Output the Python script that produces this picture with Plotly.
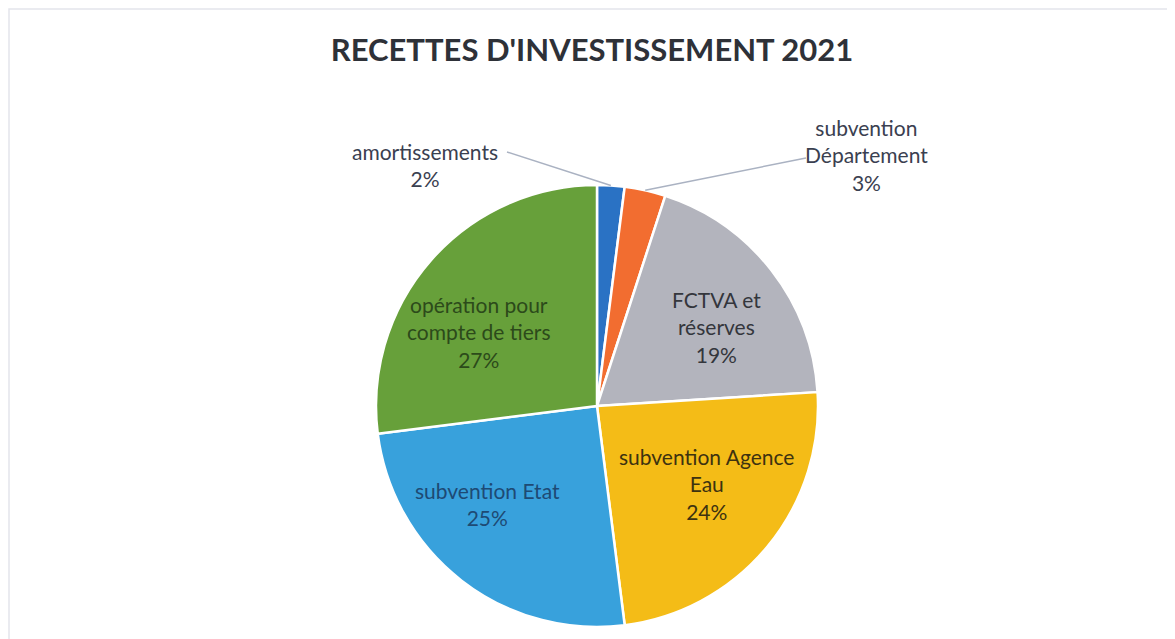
import math
import plotly.graph_objects as go

# ---- data ----
categories = ["amortissements", "subvention Département", "FCTVA et réserves",
              "subvention Agence Eau", "subvention Etat", "opération pour compte de tiers"]
display_labels = ["amortissements", "subvention<br>Département", "FCTVA et<br>réserves",
                  "subvention Agence<br>Eau", "subvention Etat", "opération pour<br>compte de tiers"]
values = [2, 3, 19, 24, 25, 27]
colors = ["#2a72c4", "#f26d30", "#b3b4bd", "#f4bc17", "#38a1dc", "#67a03a"]
text_colors = ["#3a4050", "#3a4050", "#34363c", "#3d3210", "#1e4a74", "#2c4a1a"]
outside = [True, True, False, False, False, False]

W, H = 1175, 639
OFF = 8                      # page offset of the plot div
cx, cy, R = 597, 406, 221    # pie center / radius in screen px


def px(x):
    return (x - OFF) / W


def py(y):
    return 1 - (y - OFF) / H


fig = go.Figure()
fig.add_trace(go.Pie(
    labels=categories,
    values=values,
    sort=False,
    direction="clockwise",
    rotation=0,
    marker=dict(colors=colors, line=dict(color="white", width=2.5)),
    textposition="none",
    domain=dict(x=[px(cx - R), px(cx + R)], y=[py(cy + R), py(cy - R)]),
    showlegend=False,
    hoverinfo="label+percent",
))

# label placement (screen px): text center, and for outside labels the leader-line start
label_pos = {
    0: (425, 165, 507, 152),
    1: (866, 155, 806, 158),
    2: (716, 327),
    3: (706, 484),
    4: (487, 504),
    5: (479, 332),
}

total = sum(values)
shapes = []
annotations = []
cum = 0
for i, v in enumerate(values):
    mid = (cum + v / 2) / total * 2 * math.pi
    cum += v
    pos = label_pos[i]
    annotations.append(dict(
        x=px(pos[0]), y=py(pos[1]), xref="paper", yref="paper",
        xanchor="center", yanchor="middle",
        text=display_labels[i] + "<br>" + f"{round(v / total * 100)}%",
        showarrow=False, align="center",
        font=dict(family="Lato, sans-serif", size=21, color=text_colors[i]),
    ))
    if outside[i]:
        ex, ey = cx + R * math.sin(mid), cy - R * math.cos(mid)
        shapes.append(dict(type="line", xref="paper", yref="paper",
                           x0=px(pos[2]), y0=py(pos[3]), x1=px(ex), y1=py(ey),
                           line=dict(color="#aab2c2", width=1.5)))

# faint chart-area border
shapes.append(dict(type="rect", xref="paper", yref="paper",
                   x0=1 / W, y0=-0.01, x1=1.01, y1=1 - 1 / H,
                   line=dict(color="#e3e5ec", width=1.5), layer="below"))

fig.update_layout(
    width=W, height=H,
    margin=dict(l=0, r=0, t=0, b=0),
    paper_bgcolor="white",
    title=dict(text="<b>RECETTES D'INVESTISSEMENT 2021</b>",
               x=px(592), xanchor="center", y=py(50), yanchor="middle",
               font=dict(family="Lato, sans-serif", size=31, color="#2e3138")),
    annotations=annotations,
    shapes=shapes,
)

fig.write_html("out.html")
